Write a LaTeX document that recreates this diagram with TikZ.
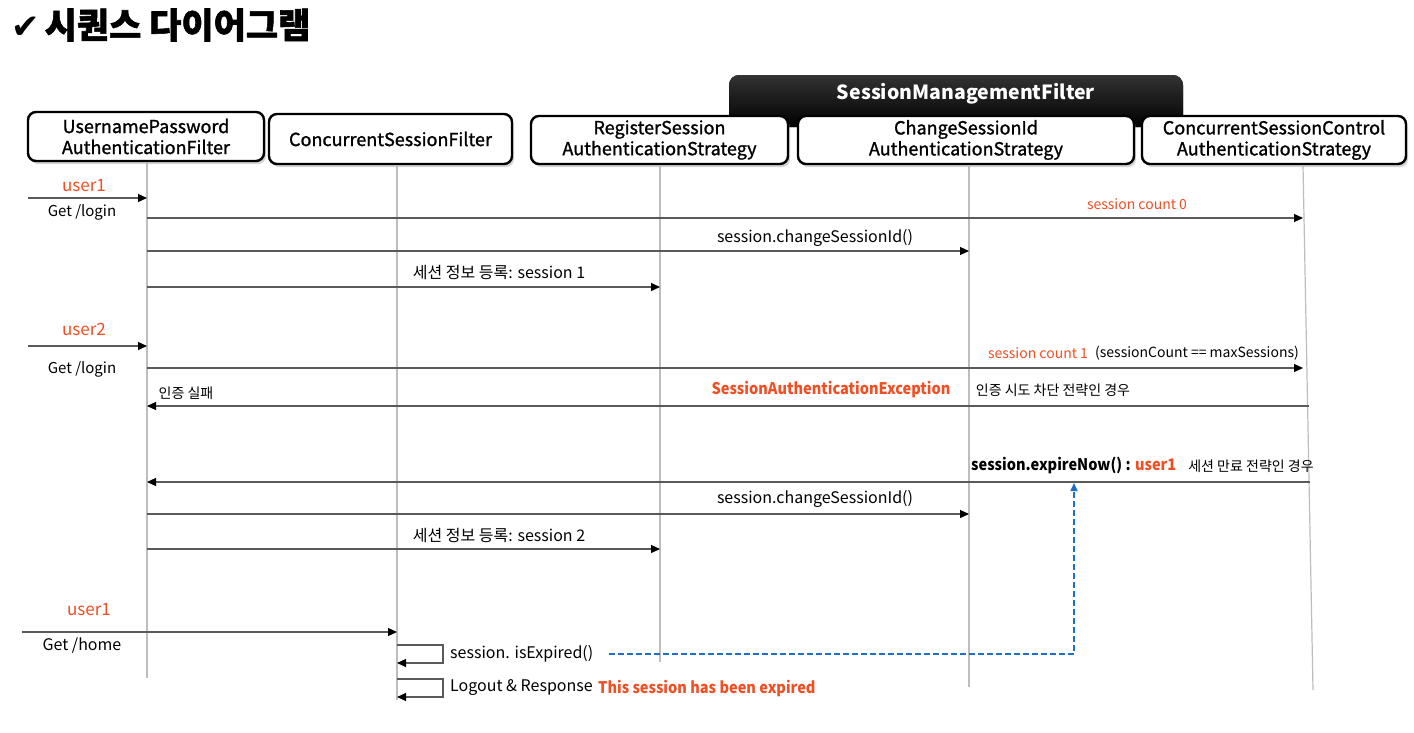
\documentclass[tikz,border=0pt]{standalone}
\usepackage{fontspec}
\setmainfont{Noto Sans CJK KR}
\newfontfamily\symfont{DejaVu Sans}
\newfontfamily\boxfont{Noto Sans CJK KR}[FakeBold=1.2]
\newfontfamily\condfont{Noto Sans CJK KR}[FakeStretch=0.91]
\newfontfamily\titlefont{Noto Sans CJK KR}[BoldFeatures={FakeBold=1.6}]
\usetikzlibrary{arrows.meta,shadows}
\definecolor{accent}{HTML}{F04E23}
\definecolor{linkblue}{HTML}{1E6FC8}
\definecolor{lifegray}{HTML}{BDBDBD}
\definecolor{msggray}{HTML}{5A5A5A}
\newcommand{\fs}[1]{\fontsize{#1}{#1}\selectfont}
\tikzset{
  actor/.style={draw=black, line width=2.4pt, rounded corners=8pt, fill=white,
    drop shadow={shadow xshift=2pt, shadow yshift=-3pt, opacity=0.35},
    align=center, inner sep=0pt, font=\boxfont\fontsize{18}{21}\selectfont},
  lifeline/.style={draw=lifegray, line width=1.2pt},
  msg/.style={draw=msggray, line width=1.2pt, -{Triangle[length=9pt,width=8pt,color=black]}},
  txt/.style={inner sep=0pt, font=\fs{16}},
  boldtxt/.style={inner sep=0pt, font=\condfont\bfseries\fs{16}},
  small/.style={inner sep=0pt, font=\fs{14}},
  who/.style={inner sep=0pt, font=\fs{17}, text=accent},
}
\begin{document}
\begin{tikzpicture}[x=1pt,y=-1pt]
\useasboundingbox (0,0) rectangle (1414,732);

% title
\node[inner sep=0pt, anchor=west] (title) at (11,25)
  {{\symfont\fs{34}✔}\hspace{5pt}{\titlefont\bfseries\fs{35}시퀀스 다이어그램}};

% filter group banner
\node[fill=black, rounded corners=10pt, minimum width=454pt, minimum height=52pt,
  top color=black!80, bottom color=black, inner sep=0pt] (smf) at (956,101) {};
\node[inner sep=0pt, text=white, font=\bfseries\fs{19.5}] (smft) at (966,94) {SessionManagementFilter};

% participants
\node[actor, minimum width=236pt, minimum height=49pt] (b1) at (146,136.5)
  {UsernamePassword\\AuthenticationFilter};
\node[actor, minimum width=243pt, minimum height=50pt] (b2) at (390.5,139)
  {ConcurrentSessionFilter};
\node[actor, minimum width=257pt, minimum height=48pt] (b3) at (659.5,140)
  {RegisterSession\\AuthenticationStrategy};
\node[actor, minimum width=336pt, minimum height=48pt] (b4) at (966,140)
  {ChangeSessionId\\AuthenticationStrategy};
\node[actor, minimum width=264pt, minimum height=48pt] (b5) at (1274,140)
  {ConcurrentSessionControl\\AuthenticationStrategy};

% lifelines
\coordinate (t1) at (147,163);  \coordinate (e1) at (147,678);
\coordinate (t2) at (397,165);  \coordinate (e2) at (397,700);
\coordinate (t3) at (660,165);  \coordinate (e3) at (660,662);
\coordinate (t4) at (969,165);  \coordinate (e4) at (969,687);
\coordinate (t5) at (1303,165); \coordinate (e5) at (1313,690);
\draw[lifeline] (t1) -- (e1);
\draw[lifeline] (t2) -- (e2);
\draw[lifeline] (t3) -- (e3);
\draw[lifeline] (t4) -- (e4);
\draw[lifeline] (t5) -- (e5);

% ---- user1 login
\coordinate (u1a) at (28,198);  \coordinate (u1b) at (147,198);
\draw[msg] (u1a) -- (u1b);
\node[who] (u1) at (84,186) {user1};
\node[small, font=\fs{15}] (g1) at (82,212) {Get /login};

\coordinate (m1a) at (147,218); \coordinate (m1b) at (1303,218);
\draw[msg] (m1a) -- (m1b);
\node[small, text=accent] (c0) at (1137,204) {session count 0};

\coordinate (m2a) at (147,251); \coordinate (m2b) at (969,251);
\draw[msg] (m2a) -- (m2b);
\node[txt] (cs1) at (815,238) {session.changeSessionId()};

\coordinate (m3a) at (147,287); \coordinate (m3b) at (660,287);
\draw[msg] (m3a) -- (m3b);
\node[txt] (r1) at (499,272) {세션 정보 등록: session 1};

% ---- user2 login
\coordinate (u2a) at (28,346);  \coordinate (u2b) at (147,346);
\draw[msg] (u2a) -- (u2b);
\node[who] (u2) at (84,329) {user2};
\node[small, font=\fs{15}] (g2) at (82,369) {Get /login};

\coordinate (m4a) at (147,368); \coordinate (m4b) at (1303,368);
\draw[msg] (m4a) -- (m4b);
\node[small, text=accent] (c1) at (1038,353) {session count 1};
\node[small] (c1n) at (1197,353) {(sessionCount == maxSessions)};

\coordinate (m5a) at (1309,406); \coordinate (m5b) at (147,406);
\draw[msg] (m5a) -- (m5b);
\node[small] (fail) at (186,393) {인증 실패};
\node[boldtxt, text=accent] (sae) at (831,389) {SessionAuthenticationException};
\node[small] (block) at (1053,390) {인증 시도 차단 전략인 경우};

\coordinate (m6a) at (1310,482); \coordinate (m6b) at (147,482);
\draw[msg] (m6a) -- (m6b);
\node[boldtxt, anchor=west] (exp) at (971,465)
  {session.expireNow() : \textcolor{accent}{user1}};
\node[small] (expn) at (1251,466) {세션 만료 전략인 경우};

\coordinate (m7a) at (147,514); \coordinate (m7b) at (969,514);
\draw[msg] (m7a) -- (m7b);
\node[txt] (cs2) at (815,499) {session.changeSessionId()};

\coordinate (m8a) at (147,549); \coordinate (m8b) at (660,549);
\draw[msg] (m8a) -- (m8b);
\node[txt] (r2) at (499,535) {세션 정보 등록: session 2};

% ---- user1 revisits
\coordinate (u3a) at (22,632);  \coordinate (u3b) at (397,632);
\draw[msg] (u3a) -- (u3b);
\node[who] (u3) at (89,610) {user1};
\node[small, font=\fs{16}] (g3) at (82,646) {Get /home};

\coordinate (s1a) at (397,645); \coordinate (s1b) at (443,645);
\coordinate (s1c) at (443,663); \coordinate (s1d) at (397,663);
\draw[msg] (s1a) -- (s1b) -- (s1c) -- (s1d);
\node[txt, anchor=west] (isexp) at (450,654) {session. isExpired()};

\coordinate (s2a) at (397,679); \coordinate (s2b) at (443,679);
\coordinate (s2c) at (443,697); \coordinate (s2d) at (397,697);
\draw[msg] (s2a) -- (s2b) -- (s2c) -- (s2d);
\node[txt, anchor=west] (logout) at (450,688) {Logout \& Response};
\node[boldtxt, anchor=west, text=accent] (expired) at (598,688)
  {This session has been expired};

% expiry link
\coordinate (d1) at (609,654); \coordinate (d2) at (1074,654); \coordinate (d3) at (1074,483);
\draw[linkblue, line width=1.6pt, dash pattern=on 6pt off 3pt,
  -{Triangle[length=8pt,width=7pt]}] (d1) -- (d2) -- (d3);
\end{tikzpicture}
\end{document}
